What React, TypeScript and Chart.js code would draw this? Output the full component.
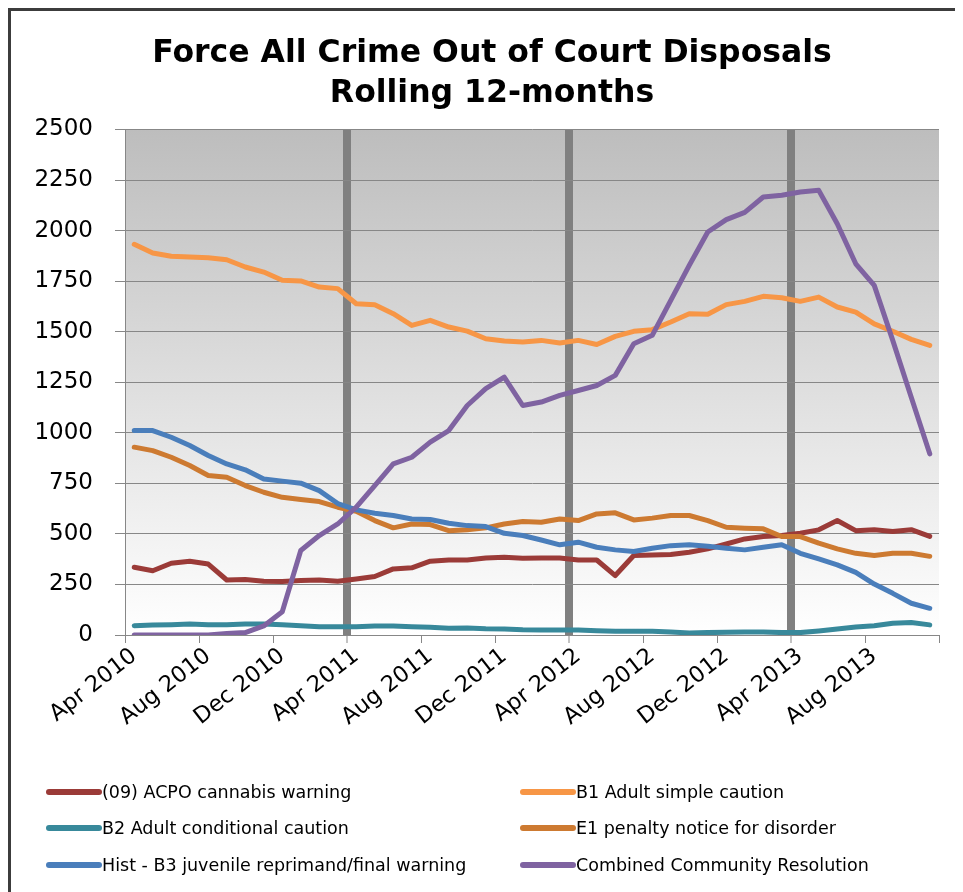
import React, { useEffect, useRef } from "react";
import { Chart, registerables } from "chart.js";

Chart.register(...registerables);

const TITLE_LINES = ["Force All Crime Out of Court Disposals", "Rolling 12-months"];

const MONTHS = [
  "Apr 2010", "May 2010", "Jun 2010", "Jul 2010", "Aug 2010", "Sep 2010", "Oct 2010", "Nov 2010", "Dec 2010",
  "Jan 2011", "Feb 2011", "Mar 2011", "Apr 2011", "May 2011", "Jun 2011", "Jul 2011", "Aug 2011", "Sep 2011",
  "Oct 2011", "Nov 2011", "Dec 2011", "Jan 2012", "Feb 2012", "Mar 2012", "Apr 2012", "May 2012", "Jun 2012",
  "Jul 2012", "Aug 2012", "Sep 2012", "Oct 2012", "Nov 2012", "Dec 2012", "Jan 2013", "Feb 2013", "Mar 2013",
  "Apr 2013", "May 2013", "Jun 2013", "Jul 2013", "Aug 2013", "Sep 2013", "Oct 2013", "Nov 2013",
];

// labels shown on the x axis (every fourth month)
const SHOWN_TICKS = [
  "Apr 2010", "Aug 2010", "Dec 2010", "Apr 2011", "Aug 2011", "Dec 2011",
  "Apr 2012", "Aug 2012", "Dec 2012", "Apr 2013", "Aug 2013",
];

// months that get the thick year-divider line
const YEAR_MARKERS = ["Apr 2011", "Apr 2012", "Apr 2013"];

const Y_TICKS = [0, 250, 500, 750, 1000, 1250, 1500, 1750, 2000, 2250, 2500];

const ACPO_CANNABIS = [
  335, 318, 355, 365, 351, 272, 274, 266, 264, 269, 272,
  266, 277, 289, 327, 332, 365, 371, 371, 381, 384, 380,
  381, 381, 371, 371, 294, 393, 396, 398, 409, 426, 450, 475,
  487, 492, 503, 520, 566, 516, 520, 512, 521, 488,
];

const B1_SIMPLE_CAUTION = [
  1932, 1889, 1873, 1869, 1866, 1856, 1820, 1795, 1754, 1751, 1721,
  1713, 1638, 1633, 1589, 1531, 1556, 1523, 1503, 1465, 1454, 1449,
  1457, 1444, 1457, 1437, 1477, 1502, 1510, 1548, 1589, 1586, 1634, 1650,
  1675, 1668, 1650, 1671, 1622, 1597, 1539, 1502, 1462, 1432,
];

const B2_CONDITIONAL_CAUTION = [
  46, 50, 51, 54, 51, 51, 54, 54, 51, 46, 41,
  41, 41, 45, 45, 41, 38, 33, 35, 31, 30, 26,
  25, 25, 25, 21, 18, 18, 18, 15, 10, 12, 13, 15,
  15, 12, 12, 20, 30, 40, 46, 58, 62, 50,
];

const E1_PENALTY_NOTICE = [
  929, 912, 879, 838, 789, 780, 739, 706, 681, 670, 660,
  632, 612, 566, 530, 549, 546, 516, 520, 530, 549, 561,
  558, 574, 566, 599, 604, 569, 578, 591, 591, 566, 533, 528,
  525, 487, 487, 454, 426, 404, 393, 404, 404, 389,
];

const HIST_B3_JUVENILE = [
  1011, 1011, 978, 937, 888, 846, 817, 772, 761, 751, 714,
  650, 619, 602, 591, 574, 571, 553, 541, 536, 503, 492,
  470, 446, 459, 434, 421, 413, 429, 442, 446, 439, 429, 421,
  434, 446, 404, 376, 347, 310, 252, 206, 157, 132,
];

const COMBINED_COMMUNITY = [
  0, 0, 0, 0, 0, 8, 12, 45, 115, 418, 492,
  549, 632, 739, 846, 879, 954, 1011, 1135, 1218, 1275, 1135,
  1152, 1185, 1209, 1234, 1284, 1440, 1482, 1655, 1828, 1993, 2054, 2090,
  2166, 2175, 2191, 2199, 2034, 1836, 1729, 1457, 1176, 896,
];

const SERIES_NAMES = [
  "(09) ACPO cannabis warning",
  "B1 Adult simple caution",
  "B2 Adult conditional caution",
  "E1 penalty notice for disorder",
  "Hist - B3 juvenile reprimand/final warning",
  "Combined Community Resolution",
];

const SERIES_COLORS = ["#9B3B38", "#F79646", "#38899B", "#CD7A31", "#4A7EBB", "#7F63A1"];

const SERIES_VALUES = [
  ACPO_CANNABIS,
  B1_SIMPLE_CAUTION,
  B2_CONDITIONAL_CAUTION,
  E1_PENALTY_NOTICE,
  HIST_B3_JUVENILE,
  COMBINED_COMMUNITY,
];

const FONT = '"DejaVu Sans", sans-serif';
const AXIS_GREY = "#878787";

const decorPlugin = {
  id: "decor",
  beforeDraw(chart: any) {
    const { ctx, chartArea: a } = chart;
    const g = ctx.createLinearGradient(0, a.top, 0, a.bottom);
    g.addColorStop(0, "#BDBDBD");
    g.addColorStop(1, "#FFFFFF");
    ctx.save();
    ctx.fillStyle = g;
    ctx.fillRect(a.left, a.top, a.right - a.left, a.bottom - a.top);
    ctx.restore();
  },
  afterDraw(chart: any) {
    const ctx = chart.ctx;
    ctx.save();
    // outer frame (left and top edges)
    ctx.fillStyle = "#3c3c3c";
    ctx.fillRect(0, 0, 3, chart.height);
    ctx.fillRect(0, 0, chart.width, 3);
    // title
    ctx.fillStyle = "#000";
    ctx.font = `bold 31.5px ${FONT}`;
    ctx.textAlign = "center";
    ctx.textBaseline = "middle";
    TITLE_LINES.forEach((t, i) => ctx.fillText(t, 484, 46 + i * 40));
    // legend, two columns
    const colLine = [41, 515];
    const rowY = [784, 820, 857];
    ctx.font = `17.5px ${FONT}`;
    ctx.textAlign = "left";
    chart.data.datasets.forEach((ds: any, i: number) => {
      const c = i % 2;
      const r = Math.floor(i / 2);
      const x0 = colLine[c];
      const y = rowY[r];
      ctx.strokeStyle = ds.borderColor;
      ctx.lineWidth = 6;
      ctx.lineCap = "round";
      ctx.beginPath();
      ctx.moveTo(x0, y);
      ctx.lineTo(x0 + 50, y);
      ctx.stroke();
      ctx.fillStyle = "#000";
      ctx.fillText(ds.label, x0 + 53, y + 1);
    });
    ctx.restore();
  },
};

export default function App() {
  const ref = useRef<HTMLCanvasElement | null>(null);

  useEffect(() => {
    document.documentElement.style.overflow = "hidden";
    const canvas = ref.current;
    if (!canvas) return;
    const chart = new Chart(canvas, {
      type: "line",
      data: {
        labels: MONTHS,
        datasets: SERIES_VALUES.map((vals, i) => ({
          label: SERIES_NAMES[i],
          data: vals,
          borderColor: SERIES_COLORS[i],
          backgroundColor: SERIES_COLORS[i],
          borderWidth: 5,
          pointRadius: 0,
          pointHoverRadius: 0,
          tension: 0,
          fill: false,
          borderCapStyle: "round",
          borderJoinStyle: "round",
          order: SERIES_VALUES.length - i,
        })),
      },
      options: {
        animation: false,
        responsive: false,
        devicePixelRatio: 1,
        events: [],
        layout: { padding: { top: 121.5, right: 24, bottom: 157, left: 0 } },
        plugins: {
          legend: { display: false },
          title: { display: false },
          tooltip: { enabled: false },
        },
        scales: {
          x: {
            type: "category",
            offset: true,
            afterFit: (scale: any) => {
              scale.height = 100;
            },
            border: { display: true, color: AXIS_GREY, width: 1 },
            grid: {
              offset: true,
              drawOnChartArea: true,
              drawTicks: true,
              tickLength: 8,
              tickWidth: 1,
              color: (ctx: any) =>
                ctx.type === "tick" && YEAR_MARKERS.includes(MONTHS[ctx.index])
                  ? "#808080"
                  : "rgba(0,0,0,0)",
              lineWidth: (ctx: any) =>
                ctx.type === "tick" && YEAR_MARKERS.includes(MONTHS[ctx.index]) ? 8 : 1,
              tickColor: (ctx: any) =>
                ctx.type !== "tick" || SHOWN_TICKS.includes(MONTHS[ctx.index])
                  ? AXIS_GREY
                  : "rgba(0,0,0,0)",
            },
            ticks: {
              autoSkip: false,
              maxRotation: 38,
              minRotation: 38,
              padding: 0,
              color: "#000",
              font: { family: FONT, size: 22.5 },
              callback: (_v: any, idx: number) =>
                SHOWN_TICKS.includes(MONTHS[idx]) ? MONTHS[idx] : "",
            },
          },
          y: {
            min: 0,
            max: 2500,
            afterFit: (scale: any) => {
              scale.width = 117;
            },
            afterBuildTicks: (scale: any) => {
              scale.ticks = Y_TICKS.map((v) => ({ value: v }));
            },
            border: { display: true, color: AXIS_GREY, width: 1 },
            grid: {
              color: AXIS_GREY,
              lineWidth: 1,
              drawTicks: true,
              tickLength: 10,
            },
            ticks: {
              padding: 22,
              color: "#000",
              font: { family: FONT, size: 23 },
              callback: (v: any) => String(v),
            },
          },
        },
      },
      plugins: [decorPlugin],
    } as any);
    return () => chart.destroy();
  }, []);

  return (
    <div>
      <canvas ref={ref} width={955} height={884} style={{ display: "block" }} />
    </div>
  );
}
